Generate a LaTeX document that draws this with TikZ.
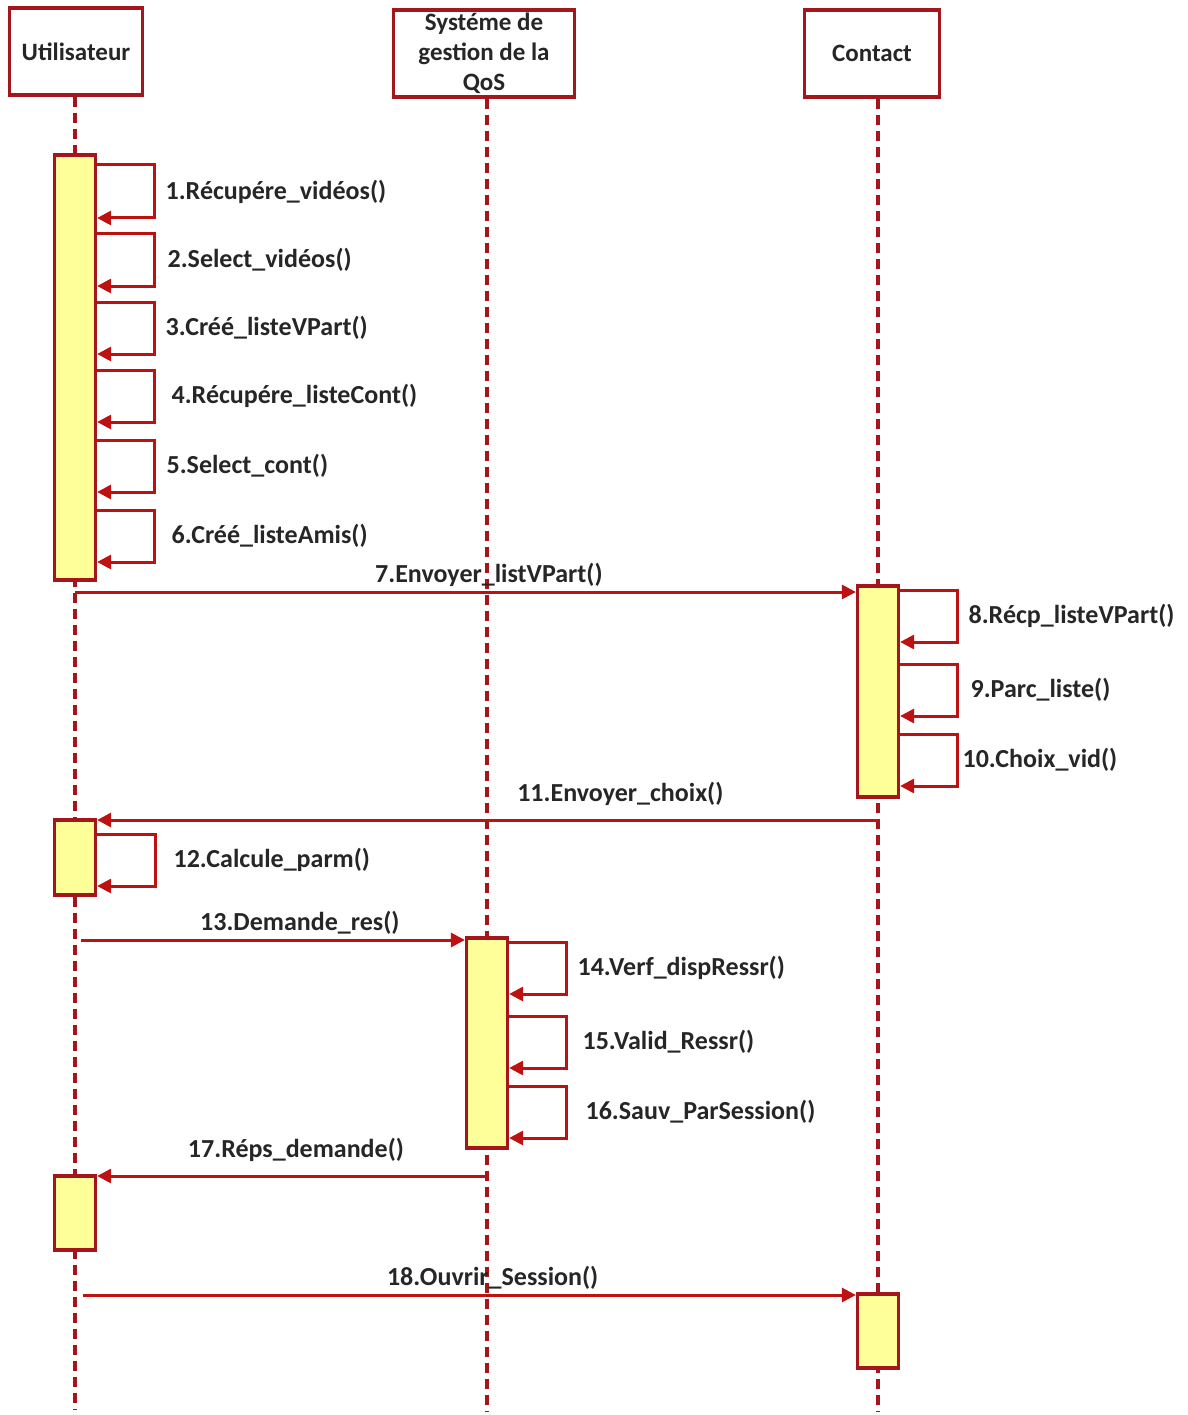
\documentclass[tikz,border=0pt]{standalone}
\usepackage{fontspec}
\setmainfont{Carlito}
\usetikzlibrary{positioning, arrows.meta}
\definecolor{umlred}{RGB}{190,18,18}
\definecolor{boxred}{RGB}{165,22,28}
\definecolor{actyellow}{RGB}{255,255,153}
\begin{document}
\begin{tikzpicture}[
    x=1pt, y=-1pt,
    >={Triangle[length=14pt, width=14pt]},
    actor/.style={rectangle, draw=boxred, line width=3.2pt, fill=white, align=center, inner sep=0pt, font=\fontsize{25}{30}\selectfont\bfseries, text=black!85},
    activ/.style={rectangle, draw=boxred, line width=3.2pt, fill=actyellow, minimum width=41pt, inner sep=0pt},
    lifeline/.style={draw=boxred, line width=3.2pt, dash pattern=on 10pt off 6pt},
    msg/.style={->, draw=umlred, line width=3pt},
    lbl/.style={font=\fontsize{26}{30}\selectfont\bfseries, text=black!85, inner sep=1pt}
]
    \useasboundingbox (0,0) rectangle (1187,1415);

    % lifelines
    \coordinate (uend) at (75,1410);
    \coordinate (send) at (487,1412);
    \coordinate (cend) at (878,1412);

    \node[actor, minimum width=133pt, minimum height=87pt] at (76,51.5) (user) {Utilisateur};
    \node[actor, minimum width=181pt, minimum height=87pt] at (484,53.5) (qos) {Systéme de\\gestion de la\\QoS};
    \node[actor, minimum width=135pt, minimum height=87pt] at (872,53.5) (contact) {Contact};

    \draw[lifeline] (user.south -| uend) -- (uend);
    \draw[lifeline] (qos.south -| send) -- (send);
    \draw[lifeline] (contact.south -| cend) -- (cend);

    % activations
    \node[activ, minimum height=425pt] at (uend |- 0,367.5) (ua1) {};
    \node[activ, minimum height=211pt] at (cend |- 0,691.5) (ca1) {};
    \node[activ, minimum height=75pt] at (uend |- 0,857.5) (ua2) {};
    \node[activ, minimum height=210pt] at (send |- 0,1043) (sa1) {};
    \node[activ, minimum height=74pt] at (uend |- 0,1213) (ua3) {};
    \node[activ, minimum height=74pt] at (cend |- 0,1331) (ca2) {};

    % Utilisateur
    \draw[msg] (ua1.east |- 0,165) -- ++(57,0) |- (ua1.east |- 0,218) node[lbl, pos=0.25, right=9pt] {1.Récupére\_vidéos()};
    \draw[msg] (ua1.east |- 0,234) -- ++(57,0) |- (ua1.east |- 0,286) node[lbl, pos=0.25, right=11pt] {2.Select\_vidéos()};
    \draw[msg] (ua1.east |- 0,302) -- ++(57,0) |- (ua1.east |- 0,354) node[lbl, pos=0.25, right=9pt] {3.Créé\_listeVPart()};
    \draw[msg] (ua1.east |- 0,370) -- ++(57,0) |- (ua1.east |- 0,422) node[lbl, pos=0.25, right=15pt] {4.Récupére\_listeCont()};
    \draw[msg] (ua1.east |- 0,440) -- ++(57,0) |- (ua1.east |- 0,492) node[lbl, pos=0.25, right=10pt] {5.Select\_cont()};
    \draw[msg] (ua1.east |- 0,510) -- ++(57,0) |- (ua1.east |- 0,562) node[lbl, pos=0.25, right=15pt] {6.Créé\_listeAmis()};

    \draw[msg] (uend |- 0,592) -- (ca1.west |- 0,592) node[lbl, pos=0.53, above=3pt] {7.Envoyer\_listVPart()};

    % Contact
    \draw[msg] (ca1.east |- 0,590) -- ++(57,0) |- (ca1.east |- 0,642) node[lbl, pos=0.25, right=9pt] {8.Récp\_listeVPart()};
    \draw[msg] (ca1.east |- 0,664) -- ++(57,0) |- (ca1.east |- 0,716) node[lbl, pos=0.25, right=11pt] {9.Parc\_liste()};
    \draw[msg] (ca1.east |- 0,734) -- ++(57,0) |- (ca1.east |- 0,786) node[lbl, pos=0.25, right=3pt] {10.Choix\_vid()};

    \draw[msg] (cend |- 0,820) -- (ua2.east |- 0,820) node[lbl, pos=0.33, above=12pt] {11.Envoyer\_choix()};
    \draw[msg] (ua2.east |- 0,834) -- ++(58,0) |- (ua2.east |- 0,886) node[lbl, pos=0.25, right=16pt] {12.Calcule\_parm()};

    \draw[msg] ([xshift=6pt]uend |- 0,940) -- (sa1.west |- 0,940) node[lbl, pos=0.57, above=3pt] {13.Demande\_res()};

    % Systeme
    \draw[msg] (sa1.east |- 0,942) -- ++(57,0) |- (sa1.east |- 0,994) node[lbl, pos=0.25, right=9pt] {14.Verf\_dispRessr()};
    \draw[msg] (sa1.east |- 0,1016) -- ++(57,0) |- (sa1.east |- 0,1068) node[lbl, pos=0.25, right=14pt] {15.Valid\_Ressr()};
    \draw[msg] (sa1.east |- 0,1086) -- ++(57,0) |- (sa1.east |- 0,1138) node[lbl, pos=0.25, right=17pt] {16.Sauv\_ParSession()};

    \draw[msg] (send |- 0,1176) -- (ua3.east |- 0,1176) node[lbl, pos=0.49, above=12pt] {17.Réps\_demande()};

    \draw[msg] ([xshift=8pt]uend |- 0,1295) -- (ca2.west |- 0,1295) node[lbl, pos=0.53, above=3pt] {18.Ouvrir\_Session()};
\end{tikzpicture}
\end{document}
